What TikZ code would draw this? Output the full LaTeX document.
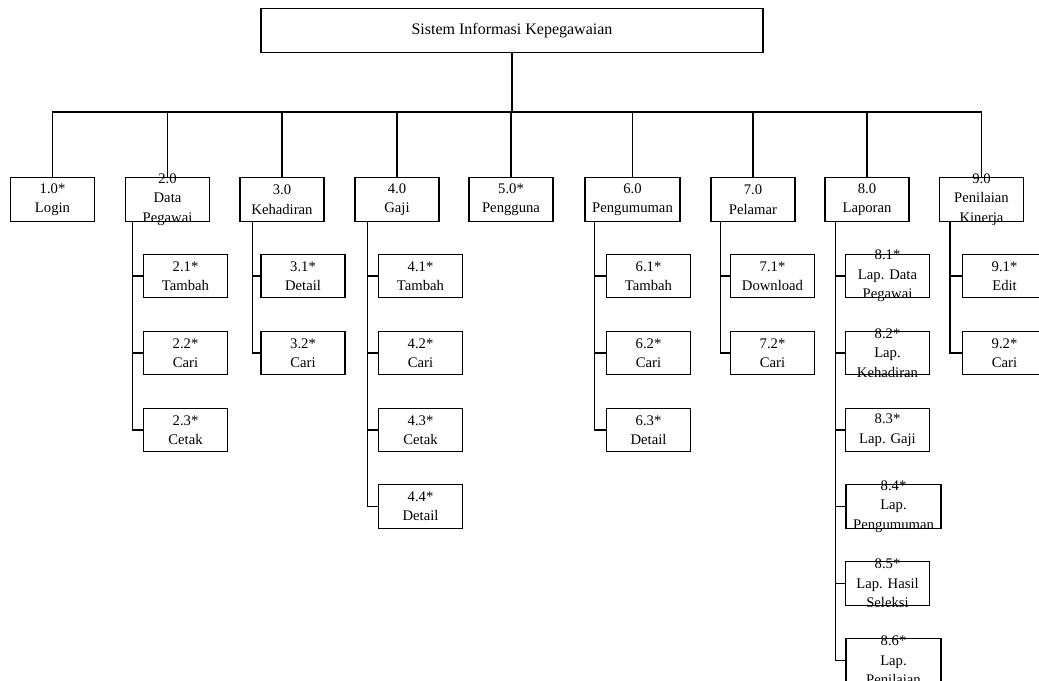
\documentclass[tikz,border=0pt]{standalone}
\usepackage{fontspec}
\setmainfont{Liberation Serif}

\begin{document}
\begin{tikzpicture}[x=0.75pt,y=-0.75pt,
  box/.style={draw, line width=0.8pt, minimum width=63pt, minimum height=32.5pt, inner sep=0pt},
  wide/.style={minimum width=71.25pt},
  txt/.style={align=center, inner sep=0pt, font=\fontsize{11}{14.6}\selectfont},
  link/.style={line width=0.8pt}]

% Page frame
\useasboundingbox (0,0) rectangle (1039,681);
\clip (0,0) rectangle (1039,681);

% Draw the main box
\node[box, minimum width=376.5pt] (sik) at (512,30.5) {};
\node[txt, font=\fontsize{12}{14.6}\selectfont] (tsik) at (sik) {Sistem Informasi Kepegawaian};
\coordinate (bus) at (512,112);

% Draw the first level
\node[box] (m10) at (52.5,199.5) {};
\node[txt] (t10) at (m10) {1.0*\\Login};

\node[box] (m20) at (167.5,199.5) {};
\node[txt] (t20) at (m20) {2.0\\Data\\Pegawai};

\node[box] (m30) at (282,199.5) {};
\node[txt] (t30) at (m30) {3.0\\Kehadiran};

\node[box] (m40) at (397,199.5) {};
\node[txt] (t40) at (m40) {4.0\\Gaji};

\node[box] (m50) at (511,199.5) {};
\node[txt] (t50) at (m50) {5.0*\\Pengguna};

\node[box, wide] (m60) at (632.5,199.5) {};
\node[txt] (t60) at (m60) {6.0\\Pengumuman};

\node[box] (m70) at (753,199.5) {};
\node[txt] (t70) at (m70) {7.0\\Pelamar};

\node[box] (m80) at (867,199.5) {};
\node[txt] (t80) at (m80) {8.0\\Laporan};

\node[box] (m90) at (981.5,199.5) {};
\node[txt] (t90) at (m90) {9.0\\Penilaian\\Kinerja};

% Draw the second level
\node[box] (m21) at (185.5,276) {};
\node[txt] (t21) at (m21) {2.1*\\Tambah};
\node[box] (m22) at (185.5,353) {};
\node[txt] (t22) at (m22) {2.2*\\Cari};
\node[box] (m23) at (185.5,430) {};
\node[txt] (t23) at (m23) {2.3*\\Cetak};

\node[box] (m31) at (303,276) {};
\node[txt] (t31) at (m31) {3.1*\\Detail};
\node[box] (m32) at (303,353) {};
\node[txt] (t32) at (m32) {3.2*\\Cari};

\node[box] (m41) at (420.5,276) {};
\node[txt] (t41) at (m41) {4.1*\\Tambah};
\node[box] (m42) at (420.5,353) {};
\node[txt] (t42) at (m42) {4.2*\\Cari};
\node[box] (m43) at (420.5,430) {};
\node[txt] (t43) at (m43) {4.3*\\Cetak};
\node[box] (m44) at (420.5,506.5) {};
\node[txt] (t44) at (m44) {4.4*\\Detail};

\node[box] (m61) at (648.5,276) {};
\node[txt] (t61) at (m61) {6.1*\\Tambah};
\node[box] (m62) at (648.5,353) {};
\node[txt] (t62) at (m62) {6.2*\\Cari};
\node[box] (m63) at (648.5,430) {};
\node[txt] (t63) at (m63) {6.3*\\Detail};

\node[box] (m71) at (772.5,276) {};
\node[txt] (t71) at (m71) {7.1*\\Download};
\node[box] (m72) at (772.5,353) {};
\node[txt] (t72) at (m72) {7.2*\\Cari};

\node[box] (m81) at (887.5,276) {};
\node[txt] (t81) at (m81) {8.1*\\Lap. Data\\Pegawai};
\node[box] (m82) at (887.5,353) {};
\node[txt] (t82) at (m82) {8.2*\\Lap.\\Kehadiran};
\node[box] (m83) at (887.5,430) {};
\node[txt] (t83) at (m83) {8.3*\\Lap. Gaji};
\node[box, wide] (m84) at (893.5,506.5) {};
\node[txt] (t84) at (m84) {8.4*\\Lap.\\Pengumuman};
\node[box] (m85) at (887.5,583.5) {};
\node[txt] (t85) at (m85) {8.5*\\Lap. Hasil\\Seleksi};
\node[box, wide] (m86) at (893.5,660.5) {};
\node[txt] (t86) at (m86) {8.6*\\Lap.\\Penilaian};

\node[box] (m91) at (1004.5,276) {};
\node[txt] (t91) at (m91) {9.1*\\Edit};
\node[box] (m92) at (1004.5,353) {};
\node[txt] (t92) at (m92) {9.2*\\Cari};

% Draw the connectors
\draw[link] (sik) -- (bus);
\draw[link] (bus) -| (m10.north);
\draw[link] (bus) -| (m20.north);
\draw[link] (bus) -| (m30.north);
\draw[link] (bus) -| (m40.north);
\draw[link] (bus) -| (m50.north);
\draw[link] (bus) -| (m60.north);
\draw[link] (bus) -| (m70.north);
\draw[link] (bus) -| (m80.north);
\draw[link] (bus) -| (m90.north);

\draw[link] ([xshift=5.5pt]m20.south west) |- (m21);
\draw[link] ([xshift=5.5pt]m20.south west) |- (m22);
\draw[link] ([xshift=5.5pt]m20.south west) |- (m23);

\draw[link] ([xshift=9.75pt]m30.south west) |- (m31);
\draw[link] ([xshift=9.75pt]m30.south west) |- (m32);

\draw[link] ([xshift=9.75pt]m40.south west) |- (m41);
\draw[link] ([xshift=9.75pt]m40.south west) |- (m42);
\draw[link] ([xshift=9.75pt]m40.south west) |- (m43);
\draw[link] ([xshift=9.75pt]m40.south west) |- (m44);

\draw[link] ([xshift=7.5pt]m60.south west) |- (m61);
\draw[link] ([xshift=7.5pt]m60.south west) |- (m62);
\draw[link] ([xshift=7.5pt]m60.south west) |- (m63);

\draw[link] ([xshift=7.5pt]m70.south west) |- (m71);
\draw[link] ([xshift=7.5pt]m70.south west) |- (m72);

\draw[link] ([xshift=8.25pt]m80.south west) |- (m81);
\draw[link] ([xshift=8.25pt]m80.south west) |- (m82);
\draw[link] ([xshift=8.25pt]m80.south west) |- (m83);
\draw[link] ([xshift=8.25pt]m80.south west) |- (m84);
\draw[link] ([xshift=8.25pt]m80.south west) |- (m85);
\draw[link] ([xshift=8.25pt]m80.south west) |- (m86);

\draw[link] ([xshift=8.25pt]m90.south west) |- (m91);
\draw[link] ([xshift=8.25pt]m90.south west) |- (m92);

\end{tikzpicture}
\end{document}
